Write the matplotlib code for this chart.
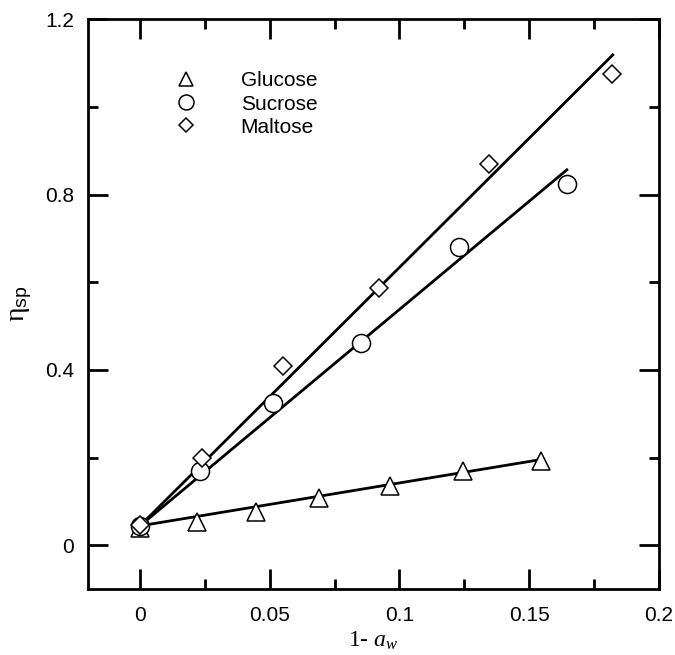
import numpy as np
import matplotlib
matplotlib.use('Agg')
import matplotlib.pyplot as plt

plt.rcParams['font.family'] = ['Liberation Sans', 'DejaVu Sans']
plt.rcParams['mathtext.fontset'] = 'custom'
plt.rcParams['mathtext.rm'] = 'Liberation Serif'
plt.rcParams['mathtext.it'] = 'Liberation Serif:italic'
plt.rcParams['mathtext.sf'] = 'Liberation Sans'

# data
glucose_x = [0.0, 0.0219, 0.0447, 0.0691, 0.0964, 0.1243, 0.1544]
glucose_y = [0.040, 0.052, 0.076, 0.108, 0.136, 0.170, 0.192]
sucrose_x = [0.0, 0.0232, 0.0514, 0.0853, 0.1231, 0.1645]
sucrose_y = [0.043, 0.169, 0.324, 0.462, 0.681, 0.824]
maltose_x = [0.0, 0.0239, 0.0550, 0.0920, 0.1345, 0.1818]
maltose_y = [0.045, 0.198, 0.408, 0.586, 0.871, 1.076]

# fitted lines: intercept, slope, end of line
fit_intercept = {'Glucose': 0.044, 'Sucrose': 0.044, 'Maltose': 0.044}
fit_slope = {'Glucose': 0.98, 'Sucrose': 4.94, 'Maltose': 5.90}
fit_xend = {'Glucose': 0.1544, 'Sucrose': 0.1645, 'Maltose': 0.1822}

x_ticks = [0, 0.05, 0.1, 0.15, 0.2]
x_labels = ['0', '0.05', '0.1', '0.15', '0.2']
y_ticks = [0, 0.4, 0.8, 1.2]
y_labels = ['0', '0.4', '0.8', '1.2']

series = [
  ('Glucose', glucose_x, glucose_y, '^', 12.5),
  ('Sucrose', sucrose_x, sucrose_y, 'o', 13),
  ('Maltose', maltose_x, maltose_y, 'D', 9.2),
]

fig = plt.figure(figsize=(6.75, 6.55), dpi=100)
ax = fig.add_axes([0.1304, 0.1008, 0.8459, 0.8696])

for name, xs, ys, mk, ms in series:
  xl = np.array([0.0, fit_xend[name]])
  ax.plot(xl, fit_intercept[name] + fit_slope[name] * xl, color='black', lw=2.0, zorder=2)
for name, xs, ys, mk, ms in series:
  ax.plot(xs, ys, linestyle='none', marker=mk, markersize=ms, markerfacecolor='white',
          markeredgecolor='black', markeredgewidth=1.1, label=name, zorder=3)

ax.set_xlim(-0.02, 0.2)
ax.set_ylim(-0.1, 1.2)
ax.set_xticks(x_ticks)
ax.set_xticklabels(x_labels)
ax.set_xticks([0.025, 0.075, 0.125, 0.175], minor=True)
ax.set_yticks(y_ticks)
ax.set_yticklabels(y_labels)
ax.set_yticks([0.2, 0.6, 1.0], minor=True)

ax.tick_params(which='both', direction='in', top=True, right=True, width=2, labelsize=15)
ax.tick_params(which='major', length=14.4)
ax.tick_params(which='minor', length=7.2)
ax.tick_params(axis='x', which='major', pad=12)
ax.tick_params(axis='y', which='major', pad=10)
for sp in ax.spines.values():
  sp.set_linewidth(2)

ax.set_xlabel('1- $a_w$', family='Liberation Serif', fontsize=17, labelpad=4)
ax.set_ylabel(r'$\mathrm{\eta}_{\mathsf{sp}}$', fontsize=20, labelpad=8)

ax.legend(loc='upper left', bbox_to_anchor=(0.260, 0.891), bbox_transform=fig.transFigure,
          frameon=False, fontsize=15, handlelength=1.0, handletextpad=2.13,
          labelspacing=0.2, borderpad=0, borderaxespad=0, markerscale=0.83, numpoints=1)

fig.savefig('out.png', dpi=100)
